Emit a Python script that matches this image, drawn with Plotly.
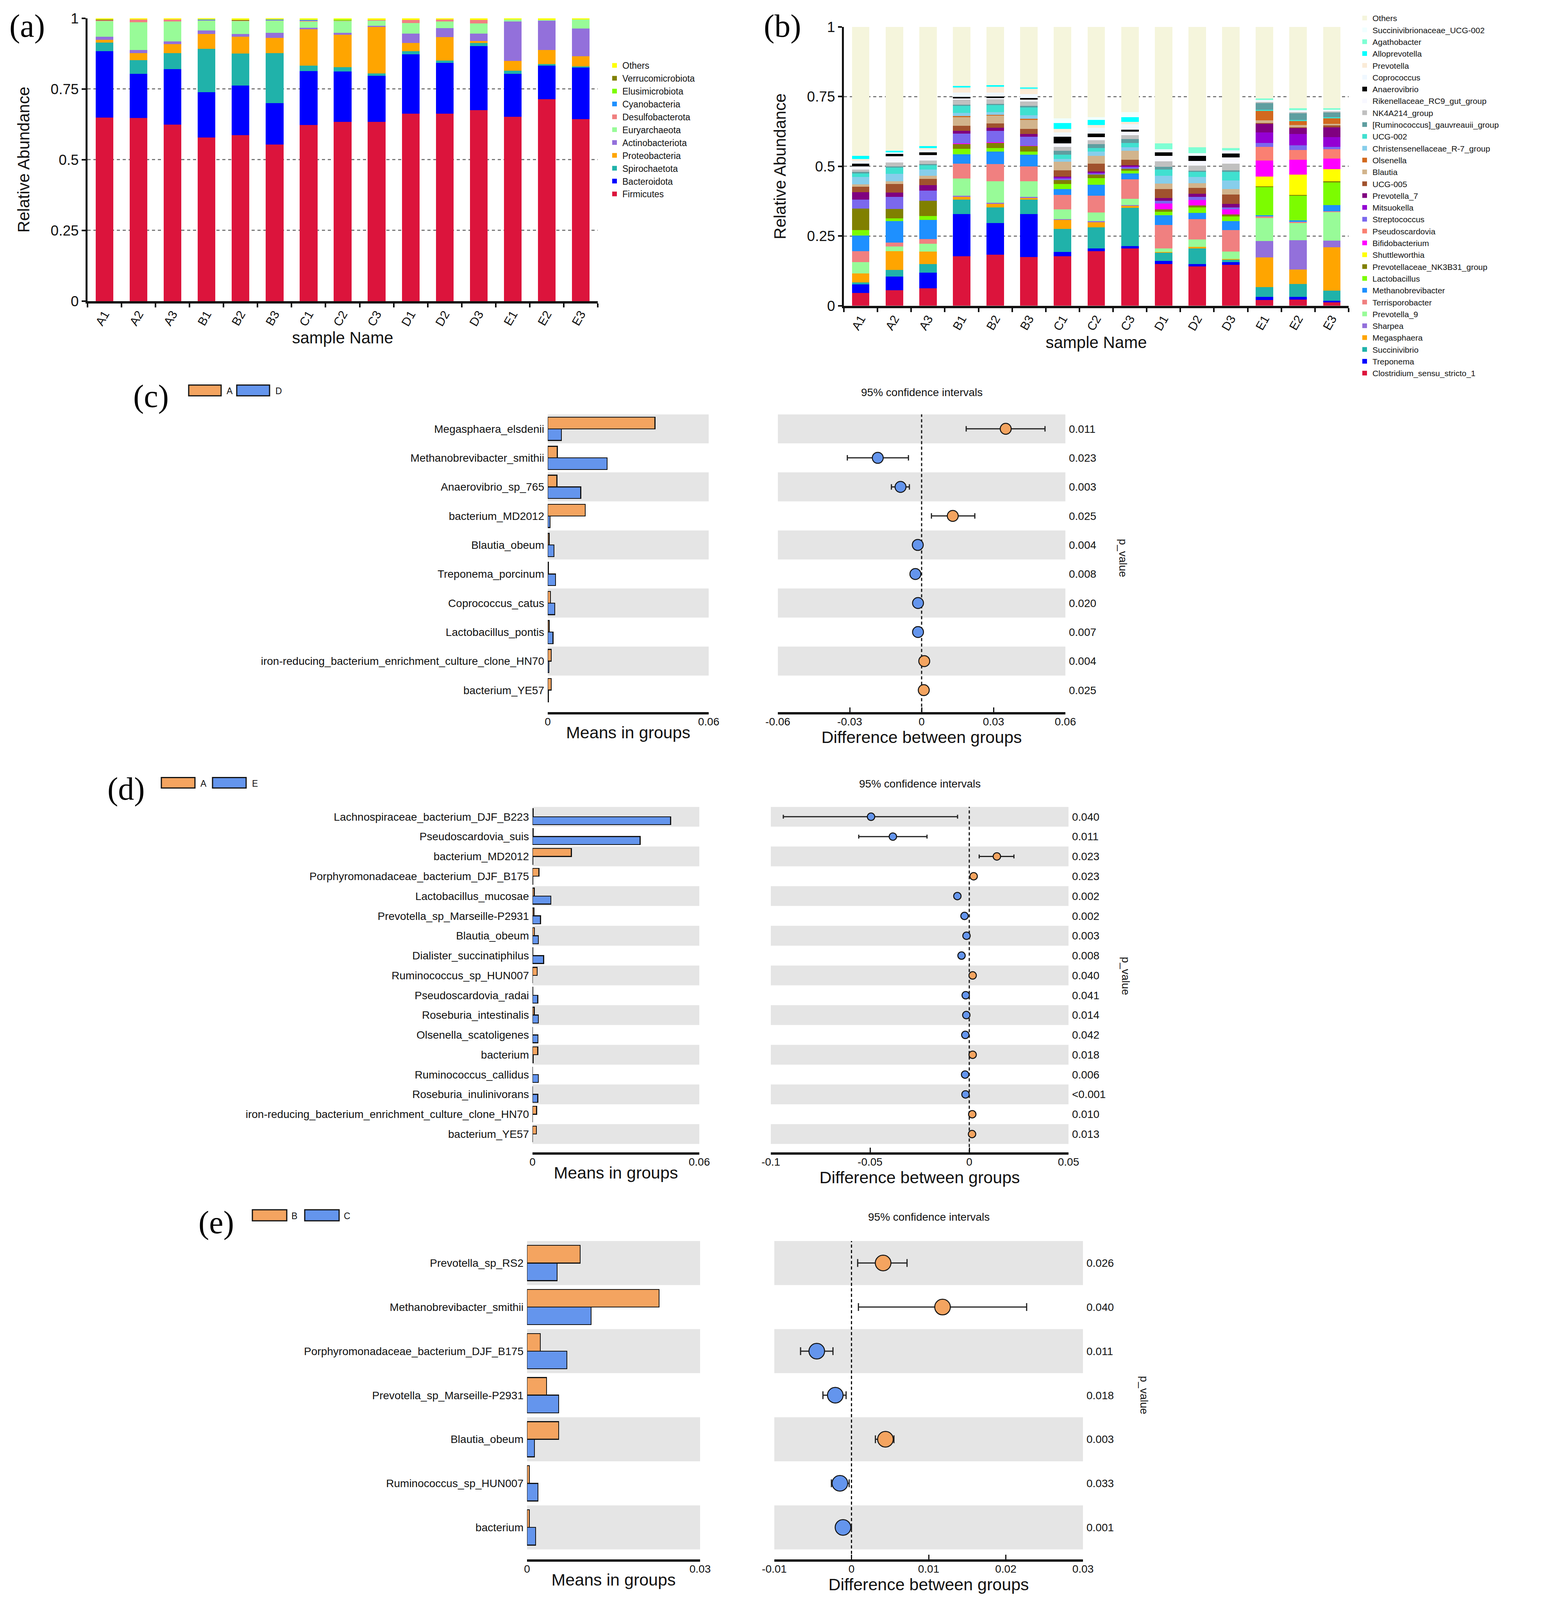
import plotly.graph_objects as go

# The page is photographed in a 3970 x 4096 viewport; the reference layout (3970 x 4920)
# is mapped onto that viewport (vertical positions scaled, 8 px body margin respected).
REF_H = 4920
VIEW_W, VIEW_H = 3970, 4096
PAGE_MARGIN = 8
FIG_W = VIEW_W - 2 * PAGE_MARGIN
FIG_H = VIEW_H - 2 * PAGE_MARGIN
SY = VIEW_H / REF_H
FS = 0.95

FONT = "Liberation Sans, Arial, Helvetica, sans-serif"
SERIF = "Liberation Serif, Times New Roman, serif"


def fx(p):
    return (p - PAGE_MARGIN) / FIG_W


def fy(p):
    return 1 - (p * SY - PAGE_MARGIN) / FIG_H


def fyp(p):
    return 1 - (p - PAGE_MARGIN) / FIG_H


def fs(v):
    return round(v * FS)


# ----------------------------------------------------------------- data (a)
samples = ["A1", "A2", "A3", "B1", "B2", "B3", "C1", "C2", "C3",
           "D1", "D2", "D3", "E1", "E2", "E3"]

firmicutes = [0.649, 0.648, 0.624, 0.579, 0.586, 0.553, 0.622, 0.633, 0.633, 0.662, 0.662, 0.675, 0.651, 0.714, 0.643]
bacteroidota = [0.235, 0.156, 0.196, 0.160, 0.176, 0.147, 0.191, 0.179, 0.164, 0.210, 0.180, 0.226, 0.153, 0.118, 0.183]
spirochaetota = [0.030, 0.048, 0.056, 0.153, 0.113, 0.176, 0.019, 0.015, 0.008, 0.012, 0.009, 0.012, 0.011, 0.006, 0.003]
proteobacteria = [0.010, 0.024, 0.032, 0.052, 0.060, 0.054, 0.129, 0.115, 0.164, 0.028, 0.082, 0.006, 0.034, 0.050, 0.036]
actinobacteriota = [0.011, 0.011, 0.010, 0.013, 0.009, 0.019, 0.006, 0.007, 0.004, 0.034, 0.032, 0.027, 0.139, 0.103, 0.099]
euryarchaeota = [0.055, 0.099, 0.070, 0.034, 0.047, 0.043, 0.022, 0.042, 0.020, 0.037, 0.023, 0.035, 0.008, 0.003, 0.032]
desulfobacterota = [0.004, 0.009, 0.007, 0.003, 0.002, 0.002, 0.002, 0.002, 0.001, 0.011, 0.007, 0.013, 0.0, 0.0, 0.0]
cyanobacteria = [0, 0, 0, 0.002, 0, 0.001, 0.003, 0, 0, 0, 0, 0, 0, 0, 0]
elusimicrobiota = [0, 0, 0, 0, 0, 0, 0, 0.002, 0, 0, 0, 0, 0, 0, 0]
verrucomicrobiota = [0.001, 0, 0, 0, 0.001, 0, 0, 0, 0, 0, 0, 0, 0, 0, 0]
others_phylum = [0.005, 0.005, 0.005, 0.004, 0.006, 0.005, 0.006, 0.005, 0.006, 0.006, 0.005, 0.006, 0.004, 0.006, 0.004]

# ----------------------------------------------------------------- data (b)
b_clostridium = [0.046, 0.056, 0.063, 0.177, 0.183, 0.174, 0.177, 0.195, 0.206, 0.150, 0.141, 0.147, 0.020, 0.022, 0.012]
b_treponema = [0.030, 0.048, 0.055, 0.152, 0.113, 0.155, 0.016, 0.011, 0.008, 0.010, 0.008, 0.010, 0.011, 0.009, 0.006]
b_succinivibrio = [0.008, 0.025, 0.032, 0.051, 0.057, 0.051, 0.083, 0.075, 0.137, 0.030, 0.057, 0.008, 0.035, 0.047, 0.036]
b_megasphaera = [0.032, 0.066, 0.044, 0.010, 0.012, 0.006, 0.032, 0.019, 0.008, 0.003, 0.005, 0.002, 0.107, 0.052, 0.155]
b_sharpea = [0, 0, 0, 0.004, 0.004, 0.005, 0.003, 0.003, 0.002, 0, 0, 0, 0.059, 0.105, 0.024]
b_prevotella_9 = [0.041, 0.018, 0.028, 0.062, 0.077, 0.055, 0.034, 0.032, 0.022, 0.012, 0.026, 0.027, 0.083, 0.061, 0.103]
b_terrisporobacter = [0.038, 0.014, 0.017, 0.053, 0.062, 0.054, 0.052, 0.059, 0.071, 0.084, 0.074, 0.077, 0.006, 0.005, 0.003]
b_methanobrevibacter = [0.056, 0.076, 0.069, 0.034, 0.045, 0.042, 0.021, 0.040, 0.020, 0.035, 0.022, 0.033, 0.004, 0.005, 0.022]
b_lactobacillus = [0.020, 0.010, 0.014, 0.020, 0.013, 0.011, 0.018, 0.024, 0.010, 0.013, 0.020, 0.017, 0.101, 0.089, 0.081]
b_nk3b31 = [0.078, 0.034, 0.054, 0.017, 0.018, 0.020, 0.015, 0.012, 0.008, 0.008, 0.006, 0.007, 0.002, 0.003, 0.004]
b_shuttleworthia = [0, 0, 0, 0, 0, 0, 0, 0, 0, 0, 0, 0, 0.036, 0.072, 0.044]
b_bifidobacterium = [0, 0, 0, 0.002, 0.002, 0.001, 0, 0, 0, 0.022, 0.020, 0.017, 0.057, 0.054, 0.038]
b_pseudoscardovia = [0, 0, 0, 0, 0, 0, 0, 0, 0, 0, 0, 0, 0.049, 0.034, 0.034]
b_streptococcus = [0.031, 0.043, 0.037, 0.035, 0.041, 0.032, 0.006, 0.005, 0.005, 0.009, 0.011, 0.008, 0.014, 0.018, 0.008]
b_mitsuokella = [0, 0, 0, 0, 0, 0, 0.003, 0.003, 0.003, 0, 0, 0, 0.038, 0.040, 0.035]
b_prevotella_7 = [0.027, 0.016, 0.020, 0.011, 0.012, 0.010, 0.004, 0.004, 0.004, 0.010, 0.012, 0.012, 0.030, 0.021, 0.035]
b_ucg005 = [0.020, 0.030, 0.022, 0.017, 0.015, 0.018, 0.022, 0.028, 0.020, 0.032, 0.020, 0.034, 0.003, 0.003, 0.007]
b_blautia = [0.008, 0.011, 0.011, 0.032, 0.029, 0.033, 0.030, 0.028, 0.032, 0.020, 0.017, 0.020, 0.010, 0.009, 0.005]
b_olsenella = [0, 0, 0, 0.003, 0.002, 0.004, 0, 0, 0, 0, 0, 0, 0.034, 0.014, 0.020]
b_christensenellaceae = [0.027, 0.026, 0.022, 0.012, 0.010, 0.013, 0.010, 0.015, 0.013, 0.028, 0.023, 0.031, 0, 0, 0]
b_ucg002 = [0.012, 0.023, 0.016, 0.025, 0.025, 0.028, 0.016, 0.013, 0.015, 0.022, 0.018, 0.030, 0.004, 0.003, 0.004]
b_ruminococcus = [0.006, 0.004, 0.004, 0.004, 0.004, 0.005, 0.014, 0.014, 0.014, 0.010, 0.004, 0.006, 0.024, 0.025, 0.017]
b_nk4a214 = [0.008, 0.014, 0.013, 0.018, 0.017, 0.016, 0.014, 0.014, 0.014, 0.020, 0.018, 0.024, 0.004, 0.004, 0.004]
b_rikenellaceae = [0.012, 0.022, 0.019, 0.004, 0.004, 0.006, 0.012, 0.011, 0.013, 0.019, 0.018, 0.022, 0.004, 0.003, 0.003]
b_anaerovibrio = [0.010, 0.008, 0.010, 0.006, 0.006, 0.006, 0.024, 0.012, 0.007, 0.013, 0.018, 0.014, 0, 0, 0]
b_coprococcus = [0.010, 0.006, 0.010, 0.016, 0.014, 0.014, 0.016, 0.022, 0.019, 0.012, 0.010, 0.011, 0.003, 0.003, 0.003]
b_prevotella = [0.006, 0, 0.006, 0.018, 0.020, 0.019, 0.013, 0.009, 0.009, 0, 0, 0, 0, 0, 0]
b_alloprevotella = [0.011, 0.006, 0.007, 0.006, 0.006, 0.005, 0.021, 0.019, 0.016, 0, 0, 0, 0, 0, 0]
b_agathobacter = [0, 0, 0, 0, 0, 0, 0, 0, 0, 0.020, 0.021, 0.008, 0.005, 0.007, 0.005]
b_succinivibrionaceae = [0, 0, 0, 0, 0, 0, 0.016, 0.010, 0.019, 0, 0, 0, 0, 0, 0]
b_others = [0.463, 0.444, 0.427, 0.211, 0.209, 0.217, 0.328, 0.323, 0.305, 0.418, 0.431, 0.435, 0.257, 0.292, 0.292]

# ----------------------------------------------------------------- data (c)
labels_c = ["Megasphaera_elsdenii", "Methanobrevibacter_smithii", "Anaerovibrio_sp_765",
            "bacterium_MD2012", "Blautia_obeum", "Treponema_porcinum", "Coprococcus_catus",
            "Lactobacillus_pontis", "iron-reducing_bacterium_enrichment_culture_clone_HN70",
            "bacterium_YE57"]
mean_A_c = [0.0400, 0.0036, 0.0034, 0.0140, 0.0005, 0.0003, 0.0010, 0.0005, 0.0013, 0.0013]
mean_D_c = [0.0051, 0.0221, 0.0123, 0.0009, 0.0023, 0.0029, 0.0026, 0.0020, 0.0004, 0.0003]
diff_c = [0.0351, -0.0183, -0.0088, 0.0130, -0.0016, -0.0026, -0.0015, -0.0015, 0.0011, 0.0009]
ci_low_c = [0.0186, -0.0310, -0.0126, 0.0041, -0.0022, -0.0031, -0.0021, -0.0020, 0.0006, 0.0005]
ci_high_c = [0.0515, -0.0055, -0.0051, 0.0222, -0.0010, -0.0020, -0.0009, -0.0010, 0.0016, 0.0013]
p_c = ["0.011", "0.023", "0.003", "0.025", "0.004", "0.008", "0.020", "0.007", "0.004", "0.025"]

# ----------------------------------------------------------------- data (d)
labels_d = ["Lachnospiraceae_bacterium_DJF_B223", "Pseudoscardovia_suis", "bacterium_MD2012",
            "Porphyromonadaceae_bacterium_DJF_B175", "Lactobacillus_mucosae",
            "Prevotella_sp_Marseille-P2931", "Blautia_obeum", "Dialister_succinatiphilus",
            "Ruminococcus_sp_HUN007", "Pseudoscardovia_radai", "Roseburia_intestinalis",
            "Olsenella_scatoligenes", "bacterium", "Ruminococcus_callidus",
            "Roseburia_inulinivorans", "iron-reducing_bacterium_enrichment_culture_clone_HN70",
            "bacterium_YE57"]
mean_A_d = [0.0002, 0.0002, 0.0140, 0.0023, 0.0006, 0.0005, 0.0007, 0.0001, 0.0017,
            0.0001, 0.0006, 0.0000, 0.0019, 0.0000, 0.0000, 0.0015, 0.0014]
mean_E_d = [0.0497, 0.0387, 0.0001, 0.0001, 0.0066, 0.0029, 0.0021, 0.0040, 0.0000,
            0.0019, 0.0021, 0.0020, 0.0002, 0.0021, 0.0019, 0.0000, 0.0000]
diff_d = [-0.0495, -0.0385, 0.0139, 0.0022, -0.0060, -0.0024, -0.0014, -0.0039, 0.0017,
          -0.0018, -0.0015, -0.0020, 0.0017, -0.0021, -0.0019, 0.0015, 0.0014]
ci_low_d = [-0.0937, -0.0557, 0.0050, 0.0012, -0.0075, -0.0031, -0.0019, -0.0048, 0.0010,
            -0.0024, -0.0020, -0.0026, 0.0011, -0.0027, -0.0024, 0.0010, 0.0009]
ci_high_d = [-0.0059, -0.0213, 0.0225, 0.0032, -0.0045, -0.0017, -0.0009, -0.0030, 0.0024,
             -0.0012, -0.0010, -0.0014, 0.0023, -0.0015, -0.0014, 0.0020, 0.0019]
p_d = ["0.040", "0.011", "0.023", "0.023", "0.002", "0.002", "0.003", "0.008", "0.040",
       "0.041", "0.014", "0.042", "0.018", "0.006", "<0.001", "0.010", "0.013"]

# ----------------------------------------------------------------- data (e)
labels_e = ["Prevotella_sp_RS2", "Methanobrevibacter_smithii", "Porphyromonadaceae_bacterium_DJF_B175",
            "Prevotella_sp_Marseille-P2931", "Blautia_obeum", "Ruminococcus_sp_HUN007", "bacterium"]
mean_B_e = [0.0092, 0.0229, 0.0023, 0.0034, 0.0055, 0.0004, 0.0004]
mean_C_e = [0.0052, 0.0111, 0.0069, 0.0055, 0.0013, 0.0019, 0.0015]
diff_e = [0.0041, 0.0118, -0.0045, -0.0021, 0.0044, -0.0015, -0.0011]
ci_low_e = [0.0008, 0.0009, -0.0066, -0.0037, 0.0031, -0.0026, -0.0014]
ci_high_e = [0.0072, 0.0227, -0.0024, -0.0007, 0.0055, -0.0003, 0.0000]
p_e = ["0.026", "0.040", "0.011", "0.018", "0.003", "0.033", "0.001"]

# ----------------------------------------------------------------- series tables
phylum_series = [
    ("Firmicutes", "#DC143C", firmicutes),
    ("Bacteroidota", "#0000FF", bacteroidota),
    ("Spirochaetota", "#20B2AA", spirochaetota),
    ("Proteobacteria", "#FFA500", proteobacteria),
    ("Actinobacteriota", "#9370DB", actinobacteriota),
    ("Euryarchaeota", "#98FB98", euryarchaeota),
    ("Desulfobacterota", "#F08080", desulfobacterota),
    ("Cyanobacteria", "#1E90FF", cyanobacteria),
    ("Elusimicrobiota", "#7CFC00", elusimicrobiota),
    ("Verrucomicrobiota", "#808000", verrucomicrobiota),
    ("Others", "#FFFF00", others_phylum),
]

genus_series = [
    ("Clostridium_sensu_stricto_1", "#DC143C", b_clostridium),
    ("Treponema", "#0000FF", b_treponema),
    ("Succinivibrio", "#20B2AA", b_succinivibrio),
    ("Megasphaera", "#FFA500", b_megasphaera),
    ("Sharpea", "#9370DB", b_sharpea),
    ("Prevotella_9", "#98FB98", b_prevotella_9),
    ("Terrisporobacter", "#F08080", b_terrisporobacter),
    ("Methanobrevibacter", "#1E90FF", b_methanobrevibacter),
    ("Lactobacillus", "#7CFC00", b_lactobacillus),
    ("Prevotellaceae_NK3B31_group", "#808000", b_nk3b31),
    ("Shuttleworthia", "#FFFF00", b_shuttleworthia),
    ("Bifidobacterium", "#FF00FF", b_bifidobacterium),
    ("Pseudoscardovia", "#FA8072", b_pseudoscardovia),
    ("Streptococcus", "#7B68EE", b_streptococcus),
    ("Mitsuokella", "#9400D3", b_mitsuokella),
    ("Prevotella_7", "#800080", b_prevotella_7),
    ("UCG-005", "#A0522D", b_ucg005),
    ("Blautia", "#D2B48C", b_blautia),
    ("Olsenella", "#D2691E", b_olsenella),
    ("Christensenellaceae_R-7_group", "#87CEEB", b_christensenellaceae),
    ("UCG-002", "#40E0D0", b_ucg002),
    ("[Ruminococcus]_gauvreauii_group", "#5F9EA0", b_ruminococcus),
    ("NK4A214_group", "#C0C0C0", b_nk4a214),
    ("Rikenellaceae_RC9_gut_group", "#F8F8FF", b_rikenellaceae),
    ("Anaerovibrio", "#000000", b_anaerovibrio),
    ("Coprococcus", "#F0F8FF", b_coprococcus),
    ("Prevotella", "#FAEBD7", b_prevotella),
    ("Alloprevotella", "#00FFFF", b_alloprevotella),
    ("Agathobacter", "#7FFFD4", b_agathobacter),
    ("Succinivibrionaceae_UCG-002", "#F0FFFF", b_succinivibrionaceae),
    ("Others", "#F5F5DC", b_others),
]

ORANGE = "#F4A460"
BLUE = "#6495ED"
BAND = "#E5E5E5"
INK = "#111111"

fig = go.Figure()
shapes = []
annotations = []
layout_axes = {}

# ----------------------------------------------------------------- panels (a) and (b)
for name, color, vals in phylum_series:
    fig.add_trace(go.Bar(x=samples, y=vals, name=name, marker=dict(color=color, line=dict(width=0)),
                         xaxis="x", yaxis="y", legend="legend"))
for name, color, vals in genus_series:
    fig.add_trace(go.Bar(x=samples, y=vals, name=name, marker=dict(color=color, line=dict(width=0)),
                         xaxis="x2", yaxis="y2", legend="legend2"))


def abundance_axes(xname, yname, xdom, ydom):
    layout_axes[xname] = dict(
        domain=[fx(xdom[0]), fx(xdom[1])], anchor=yname.replace("axis", ""),
        type="category", range=[-0.5, 14.5], tickson="boundaries",
        ticks="outside", ticklen=10, tickwidth=4, tickcolor=INK,
        showline=True, linewidth=6, linecolor=INK, showgrid=False, zeroline=False,
        tickangle=-60, tickfont=dict(size=31, color=INK), ticklabelstandoff=-3,
        title=dict(text="sample Name", font=dict(size=fs(44), color=INK), standoff=0),
    )
    layout_axes[yname] = dict(
        domain=[fy(ydom[0]), fy(ydom[1])], anchor=xname.replace("axis", ""),
        range=[0, 1], tickmode="array", tickvals=[0, 0.25, 0.5, 0.75, 1],
        ticktext=["0", "0.25", "0.5", "0.75", "1"],
        ticks="outside", ticklen=10, tickwidth=4, tickcolor=INK,
        showline=True, linewidth=5, linecolor=INK, showgrid=False, zeroline=False,
        tickfont=dict(size=37, color=INK),
        minor=dict(tickmode="array", tickvals=[0.25, 0.5, 0.75], showgrid=True,
                   gridcolor="#7a7a7a", griddash="8px,7px", gridwidth=2.5, ticks=""),
        title=dict(text="Relative Abundance", font=dict(size=fs(44), color=INK), standoff=42),
    )


abundance_axes("xaxis", "yaxis", (224, 1530), (926, 56))
abundance_axes("xaxis2", "yaxis2", (2160, 3452), (940, 83))

# ----------------------------------------------------------------- STAMP panels


def stamp_panel(k, labels, groups, mean1, mean2, diff, lo, hi, pvals, geo):
    xm, ym, xd, yd = f"x{k}", f"y{k}", f"x{k + 1}", f"y{k + 1}"
    n = len(labels)
    fig.add_trace(go.Bar(y=labels, x=mean1, orientation="h", base=0, offset=-0.4, width=0.4,
                         name=groups[0], showlegend=False,
                         marker=dict(color=ORANGE, line=dict(color=INK, width=2.5)),
                         xaxis=xm, yaxis=ym))
    fig.add_trace(go.Bar(y=labels, x=mean2, orientation="h", base=0, offset=0.0, width=0.4,
                         name=groups[1], showlegend=False,
                         marker=dict(color=BLUE, line=dict(color=INK, width=2.5)),
                         xaxis=xm, yaxis=ym))
    colors = [ORANGE if d > 0 else BLUE for d in diff]
    fig.add_trace(go.Scatter(
        x=diff, y=labels, mode="markers", showlegend=False, name="difference",
        marker=dict(size=geo["msize"], color=colors, line=dict(color=INK, width=2.5)),
        error_x=dict(type="data", symmetric=False,
                     array=[h - d for d, h in zip(diff, hi)],
                     arrayminus=[d - l for d, l in zip(diff, lo)],
                     color="#222222", thickness=3, width=geo["cap"]),
        xaxis=xd, yaxis=yd))

    ydom = [fy(geo["ybot"]), fy(geo["ytop"])]
    yrange = [n - 0.5 + geo["gap"], -0.5]
    mt = [0, geo["mmax"]]
    layout_axes[f"xaxis{k}"] = dict(
        domain=[fx(geo["means"][0]), fx(geo["means"][1])], anchor=ym,
        range=[0, geo["mmax"]], tickmode="array", tickvals=mt, ticktext=[f"{v:g}" for v in mt],
        ticks="inside", ticklen=12, tickwidth=3, tickcolor=INK,
        showline=True, linewidth=6, linecolor=INK, showgrid=False, zeroline=False,
        tickfont=dict(size=fs(29), color=INK), ticklabelstandoff=-6,
        title=dict(text="Means in groups", font=dict(size=fs(45), color=INK), standoff=0))
    layout_axes[f"yaxis{k}"] = dict(
        domain=ydom, anchor=xm, type="category", categoryorder="array", categoryarray=labels,
        range=yrange, showline=False, ticks="", showgrid=False, zeroline=False,
        tickfont=dict(size=fs(29), color=INK), ticklabelstandoff=8)
    dt = geo["dticks"]
    layout_axes[f"xaxis{k + 1}"] = dict(
        domain=[fx(geo["diff"][0]), fx(geo["diff"][1])], anchor=yd,
        range=geo["drange"], tickmode="array", tickvals=dt, ticktext=[f"{v:g}" for v in dt],
        ticks="inside", ticklen=12, tickwidth=3, tickcolor=INK,
        showline=True, linewidth=6, linecolor=INK, showgrid=False, zeroline=False,
        tickfont=dict(size=fs(29), color=INK), ticklabelstandoff=-6,
        title=dict(text="Difference between groups", font=dict(size=fs(45), color=INK), standoff=0))
    layout_axes[f"yaxis{k + 1}"] = dict(
        domain=ydom, anchor=xd, type="category", categoryorder="array", categoryarray=labels,
        range=yrange, side="right", tickmode="array", tickvals=labels, ticktext=pvals,
        showline=False, ticks="", showgrid=False, zeroline=False,
        tickfont=dict(size=fs(29), color=INK), ticklabelstandoff=8)

    # alternating background bands
    for i in range(0, n, 2):
        for xr, yr in ((xm, ym), (xd, yd)):
            shapes.append(dict(type="rect", xref=f"{xr} domain", yref=yr, x0=0, x1=1,
                               y0=i - 0.5, y1=i + 0.5, fillcolor=BAND, line=dict(width=0),
                               layer="below"))
    # zero reference line
    shapes.append(dict(type="line", xref=xd, yref=f"{yd} domain", x0=0, x1=0, y0=0, y1=1,
                       line=dict(color=INK, width=3, dash="8px,6px"), layer="below"))

    cx = (geo["diff"][0] + geo["diff"][1]) / 2
    annotations.append(dict(text="95% confidence intervals", x=fx(cx), y=fy(geo["ci_y"]),
                            xref="paper", yref="paper", showarrow=False,
                            xanchor="center", yanchor="middle", font=dict(size=fs(29), color=INK)))
    annotations.append(dict(text="p_value", x=fx(geo["pv"][0]), y=fy(geo["pv"][1]),
                            xref="paper", yref="paper", showarrow=False, textangle=90,
                            xanchor="center", yanchor="middle", font=dict(size=fs(29), color=INK)))
    annotations.append(dict(text=geo["tag"], x=fx(geo["tagpos"][0]), y=fy(geo["tagpos"][1]),
                            xref="paper", yref="paper", showarrow=False,
                            xanchor="center", yanchor="middle",
                            font=dict(size=fs(86), family=SERIF, color="black")))
    # group key
    y0, y1 = geo["key_y"]
    for (kx0, kx1, tx), col, g in zip(geo["key"], (ORANGE, BLUE), groups):
        shapes.append(dict(type="rect", xref="paper", yref="paper", x0=fx(kx0), x1=fx(kx1),
                           y0=fy(y1), y1=fy(y0), fillcolor=col, line=dict(color=INK, width=3)))
        annotations.append(dict(text=g, x=fx(tx), y=fy((y0 + y1) / 2 + 2), xref="paper",
                                yref="paper", showarrow=False, xanchor="center",
                                yanchor="middle", font=dict(size=fs(24), color=INK)))


stamp_panel(3, labels_c, ("A", "D"), mean_A_c, mean_D_c, diff_c, ci_low_c, ci_high_c, p_c, dict(
    means=(1402, 1814), diff=(1991, 2727), ytop=1274, ybot=2190, gap=0.26, mmax=0.06,
    drange=[-0.06, 0.06], dticks=[-0.06, -0.03, 0, 0.03, 0.06], msize=28, cap=7,
    ci_y=1206, pv=(2874, 1716), tag="(c)", tagpos=(386, 1218),
    key=[(483, 566, 588), (606, 690, 713)], key_y=(1184, 1217)))

stamp_panel(5, labels_d, ("A", "E"), mean_A_d, mean_E_d, diff_d, ci_low_d, ci_high_d, p_d, dict(
    means=(1363, 1790), diff=(1973, 2735), ytop=2481, ybot=3544, gap=0.43, mmax=0.06,
    drange=[-0.1, 0.05], dticks=[-0.1, -0.05, 0, 0.05], msize=19, cap=5,
    ci_y=2410, pv=(2882, 3001), tag="(d)", tagpos=(323, 2426),
    key=[(413, 499, 521), (544, 630, 652)], key_y=(2391, 2423)))

stamp_panel(7, labels_e, ("B", "C"), mean_B_e, mean_C_e, diff_e, ci_low_e, ci_high_e, p_e, dict(
    means=(1349, 1792), diff=(1982, 2772), ytop=3816, ybot=4795, gap=0.225, mmax=0.03,
    drange=[-0.01, 0.03], dticks=[-0.01, 0, 0.01, 0.02, 0.03], msize=40, cap=10,
    ci_y=3742, pv=(2928, 4290), tag="(e)", tagpos=(553, 3759),
    key=[(646, 734, 753), (780, 868, 888)], key_y=(3720, 3754)))

annotations.append(dict(text="(a)", x=fx(70), y=fy(80), xref="paper", yref="paper",
                        showarrow=False, xanchor="center", yanchor="middle",
                        font=dict(size=fs(86), family=SERIF, color="black")))
annotations.append(dict(text="(b)", x=fx(2003), y=fy(80), xref="paper", yref="paper",
                        showarrow=False, xanchor="center", yanchor="middle",
                        font=dict(size=fs(86), family=SERIF, color="black")))

fig.update_layout(
    width=FIG_W, height=FIG_H, autosize=False,
    margin=dict(l=0, r=0, t=0, b=0, pad=0),
    template="none",
    paper_bgcolor="white", plot_bgcolor="rgba(0,0,0,0)",
    font=dict(family=FONT, color=INK, size=26),
    barmode="stack", bargap=0.48,
    showlegend=True,
    legend=dict(x=fx(1553), y=fyp(146), xanchor="left", yanchor="top",
                traceorder="reversed", bgcolor="rgba(0,0,0,0)", borderwidth=0,
                font=dict(size=23, family=FONT, color=INK)),
    legend2=dict(x=fx(3473), y=fyp(26), xanchor="left", yanchor="top",
                 traceorder="reversed", bgcolor="rgba(0,0,0,0)", borderwidth=0,
                 font=dict(size=21, family=FONT, color=INK)),
    shapes=shapes,
    annotations=annotations,
    **layout_axes,
)

fig.write_html("out.html")
